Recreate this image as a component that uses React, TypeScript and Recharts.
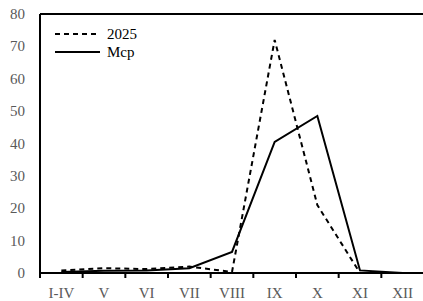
import React from "react";
import { LineChart, Line, XAxis, YAxis, ReferenceLine } from "recharts";

const months = ["I-IV", "V", "VI", "VII", "VIII", "IX", "X", "XI", "XII"];
const y2025 = [0.8, 1.5, 1.2, 2.0, 0.3, 72, 21, 0, null];
const mcp = [0.3, 0.7, 0.8, 1.5, 6.5, 40.5, 48.5, 0.8, 0];
const yTicks = [0, 10, 20, 30, 40, 50, 60, 70, 80];

const data = months.map((m, i) => ({ month: m, y2025: y2025[i], mcp: mcp[i] }));

const FONT = '"Liberation Serif", "Times New Roman", serif';
const BAND = 384 / months.length;

function MonthTick({ x, y, payload }: any) {
    return (
        <g>
            <line x1={x - BAND / 2} x2={x - BAND / 2} y1={y} y2={y + 5} stroke="#000" strokeWidth={2} />
            {payload.index === months.length - 1 && (
                <line x1={x + BAND / 2} x2={x + BAND / 2} y1={y} y2={y + 5} stroke="#000" strokeWidth={2} />
            )}
            <text x={x} y={y + 25} textAnchor="middle" fill="#595959" style={{ fontSize: 15, fontFamily: FONT }}>
                {payload.value}
            </text>
        </g>
    );
}

function YTick({ x, y, payload }: any) {
    return (
        <text x={x} y={y} dy={5} textAnchor="end" fill="#595959" style={{ fontSize: 15, fontFamily: FONT }}>
            {payload.value}
        </text>
    );
}

function LegendBox() {
    return (
        <div style={{ position: "absolute", left: 54, top: 25, fontFamily: FONT, fontSize: 15, color: "#000", lineHeight: "18px" }}>
            <div style={{ display: "flex", alignItems: "center" }}>
                <svg width={48} height={18}>
                    <line x1={1} x2={46} y1={9} y2={9} stroke="#000" strokeWidth={2} strokeDasharray="5 4" />
                </svg>
                <span style={{ marginLeft: 5 }}>2025</span>
            </div>
            <div style={{ display: "flex", alignItems: "center" }}>
                <svg width={48} height={18}>
                    <line x1={1} x2={46} y1={9} y2={9} stroke="#000" strokeWidth={2} />
                </svg>
                <span style={{ marginLeft: 5 }}>Mcp</span>
            </div>
        </div>
    );
}

export default function App() {
    return (
        <div style={{ position: "fixed", left: 0, top: 0, width: 423, height: 301, overflow: "hidden", background: "#fff", fontFamily: FONT }}>
            <LineChart width={424} height={301} data={data} margin={{ top: 14, right: 0, left: 0, bottom: 0 }}>
                <XAxis
                    dataKey="month"
                    scale="band"
                    height={28}
                    tickLine={false}
                    tickSize={0}
                    tickMargin={0}
                    interval={0}
                    axisLine={{ stroke: "#000", strokeWidth: 2 }}
                    tick={<MonthTick />}
                />
                <YAxis
                    domain={[0, 80]}
                    ticks={yTicks}
                    width={40}
                    tickLine={false}
                    tickSize={0}
                    tickMargin={15}
                    axisLine={{ stroke: "#000", strokeWidth: 2 }}
                    tick={<YTick />}
                />
                <ReferenceLine y={80} stroke="#000" strokeWidth={2} />
                <Line
                    dataKey="y2025"
                    stroke="#000"
                    strokeWidth={2}
                    strokeDasharray="5 4"
                    dot={false}
                    isAnimationActive={false}
                    connectNulls={false}
                />
                <Line dataKey="mcp" stroke="#000" strokeWidth={2} dot={false} isAnimationActive={false} />
            </LineChart>
            <LegendBox />
        </div>
    );
}
